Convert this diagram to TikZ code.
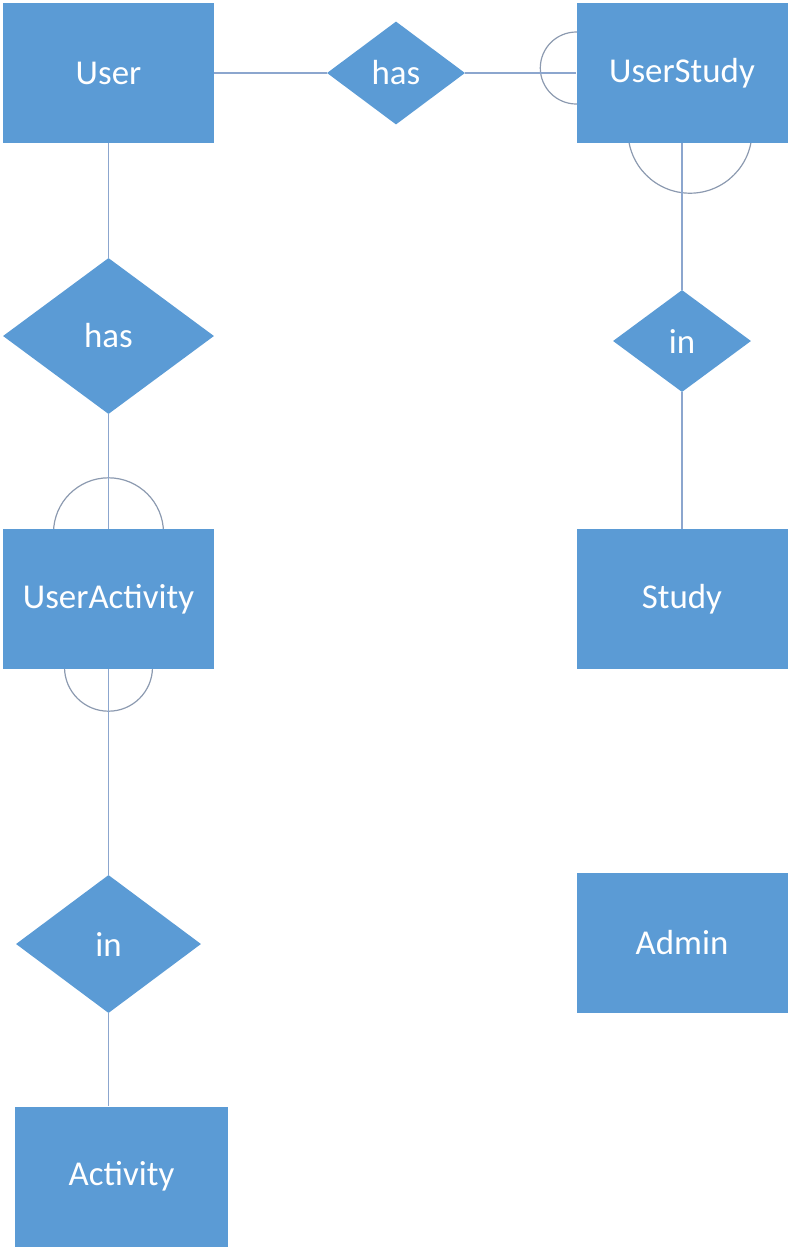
\documentclass[tikz,border=0pt]{standalone}
\usepackage{fontspec}
\setmainfont{Carlito}
\usetikzlibrary{shapes.geometric,positioning,backgrounds}
\definecolor{entblue}{RGB}{91,155,213}
\definecolor{linkblue}{RGB}{140,166,206}
\definecolor{arcgray}{RGB}{140,154,176}
\tikzset{
    entity/.style={rectangle, fill=entblue, text=white, inner sep=0pt,
        minimum width=211bp, minimum height=140bp, font=\fontsize{35}{40}\selectfont},
    relation/.style={diamond, fill=entblue, text=white, inner sep=0pt,
        font=\fontsize{35}{40}\selectfont},
    link/.style={draw=linkblue, line width=1.5bp},
    crow/.style={draw=arcgray, line width=1.2bp},
}
\begin{document}
\begin{tikzpicture}[x=1bp,y=-1bp]
    \useasboundingbox (0,0) rectangle (791,1250);

    % Entities
    \node[entity] (User) at (108.5,73) {User};
    \node[entity] (UserStudy) at (682,73) {UserStudy};
    \node[entity] (UserActivity) at (108.5,599) {UserActivity};
    \node[entity] (Study) at (682,599) {Study};
    \node[entity] (Admin) at (682,943) {Admin};
    \node[entity, minimum width=213bp] (Activity) at (121.5,1176.5) {Activity};

    % Relationships
    \node[relation, minimum width=138bp, minimum height=103bp] (hasStudy) at (396,73) {has};
    \node[relation, minimum width=211bp, minimum height=156bp] (hasActivity) at (108.5,336) {has};
    \node[relation, minimum width=138bp, minimum height=102bp] (inStudy) at (682,341) {in};
    \node[relation, minimum width=185bp, minimum height=138bp] (inActivity) at (108.5,944) {in};

    % Connectors
    \draw[link] (User) -- (hasStudy);
    \draw[link] (hasStudy) -- (UserStudy);
    \foreach \a/\b in {User/hasActivity, hasActivity/UserActivity, UserActivity/inActivity, UserStudy/inStudy, inStudy/Study}
        \draw[link] (\a) -- (\b);
    \draw[link] (inActivity.south) -- (inActivity.south |- Activity.north);

    % Many-side half circles, behind the boxes
    \begin{scope}[on background layer]
        \draw[crow] ([yshift=5bp]UserStudy.west) circle (36bp);
        \draw[crow] ([xshift=8bp,yshift=12bp]UserStudy.south) circle (62bp);
        \draw[crow] ([yshift=-4bp]UserActivity.north) circle (55bp);
        \draw[crow] ([yshift=2bp]UserActivity.south) circle (44bp);
    \end{scope}
\end{tikzpicture}
\end{document}
